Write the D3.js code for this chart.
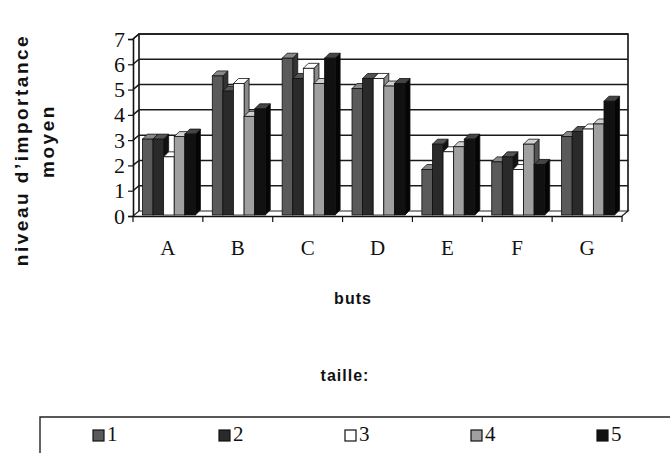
<!DOCTYPE html>
<html>
<head>
<meta charset="utf-8">
<script src="https://cdn.jsdelivr.net/npm/d3@7"></script>
<style>
  body { margin: 0; background: #fff; }
  svg { display: block; }
</style>
</head>
<body>
<script>
// data
const categories = ["A", "B", "C", "D", "E", "F", "G"];
const seriesNames = ["1", "2", "3", "4", "5"];
const s1 = [3.0, 5.5, 6.2, 5.0, 1.8, 2.1, 3.1];
const s2 = [3.0, 4.9, 5.4, 5.4, 2.8, 2.3, 3.3];
const s3 = [2.3, 5.2, 5.8, 5.4, 2.5, 1.8, 3.4];
const s4 = [3.1, 3.9, 5.2, 5.1, 2.7, 2.8, 3.6];
const s5 = [3.2, 4.2, 6.2, 5.2, 3.0, 2.0, 4.5];
const series = [s1, s2, s3, s4, s5];
const yTicks = [0, 1, 2, 3, 4, 5, 6, 7];

const front = ["#5a5a5a", "#2a2a2a", "#ffffff", "#a0a0a0", "#111111"];
const side  = ["#333333", "#111111", "#8a8a8a", "#555555", "#050505"];
const top_  = ["#888888", "#555555", "#ffffff", "#d0d0d0", "#444444"];

const width = 670, height = 453;
const wall = {dx: 6, dy: -5};   // depth of the chart box
const depth = {dx: 5, dy: -5};  // depth of one bar

const svg = d3.select("body").append("svg")
  .attr("width", width).attr("height", height);

const x0 = d3.scaleBand().domain(categories).range([133, 622]);
const x1 = d3.scaleBand().domain(seriesNames).range([0, 53]);
const y = d3.scaleLinear().domain([0, 7]).range([216, 39]);

const g = svg.append("g");

// back wall + floor
g.append("path")
  .attr("d", `M${133 + wall.dx},${y(0) + wall.dy}V${y(7) + wall.dy}H${622 + wall.dx}V${y(0) + wall.dy}`)
  .attr("fill", "none").attr("stroke", "#111").attr("stroke-width", 1.6);
g.append("path")
  .attr("d", `M133,${y(0)}L${133 + wall.dx},${y(0) + wall.dy}H${622 + wall.dx}L622,${y(0)}`)
  .attr("fill", "none").attr("stroke", "#222").attr("stroke-width", 1.2);
g.append("path")
  .attr("d", `M133,${y(7)}L${133 + wall.dx},${y(7) + wall.dy}`)
  .attr("fill", "none").attr("stroke", "#111").attr("stroke-width", 1.4);

// gridlines on side and back wall
g.selectAll(".grid").data(yTicks.filter(d => d > 0)).join("path")
  .attr("class", "grid")
  .attr("d", d => `M133,${y(d)}L${133 + wall.dx},${y(d) + wall.dy}H${622 + wall.dx}`)
  .attr("fill", "none").attr("stroke", "#1a1a1a").attr("stroke-width", 1.5);

// bars, drawn left to right so the next front face hides the previous side
const bx = 1, by = -1; // bars sit a bit behind the front edge
categories.forEach((c, ci) => {
  series.forEach((s, si) => {
    const v = s[ci];
    const xl = x0(c) + (x0.bandwidth() - 53) / 2 + x1(seriesNames[si]) + bx;
    const w = x1.bandwidth();
    const yt = y(v) + by, yb = y(0) + by;
    const bar = g.append("g");
    bar.append("path")
      .attr("d", `M${xl + w},${yt}L${xl + w + depth.dx},${yt + depth.dy}V${yb + depth.dy}L${xl + w},${yb}Z`)
      .attr("fill", side[si]).attr("stroke", "#111").attr("stroke-width", 0.8);
    bar.append("path")
      .attr("d", `M${xl},${yt}L${xl + depth.dx},${yt + depth.dy}H${xl + w + depth.dx}L${xl + w},${yt}Z`)
      .attr("fill", top_[si]).attr("stroke", "#111").attr("stroke-width", 0.8);
    bar.append("rect")
      .attr("x", xl).attr("y", yt).attr("width", w).attr("height", yb - yt)
      .attr("fill", front[si]).attr("stroke", "#111").attr("stroke-width", 0.8);
  });
});

// front axes
const yAxis = d3.axisLeft(y).tickValues(yTicks).tickFormat(d3.format("d"))
  .tickSize(5).tickPadding(3);
svg.append("g").attr("transform", "translate(133,0)").call(yAxis)
  .call(a => a.select(".domain").attr("stroke", "#111").attr("stroke-width", 1.6))
  .call(a => a.selectAll("line").attr("stroke", "#111").attr("stroke-width", 1.2))
  .call(a => a.selectAll("text").attr("font-family", "Liberation Serif, serif")
    .attr("font-size", 22).attr("fill", "#111"));

const xAxis = d3.axisBottom(x0).tickSize(0).tickPadding(24);
const xa = svg.append("g").attr("transform", `translate(0,${y(0)})`).call(xAxis);
xa.select(".domain").attr("stroke", "#111").attr("stroke-width", 1.6);
xa.selectAll("text").attr("font-family", "Liberation Serif, serif")
  .attr("font-size", 21).attr("fill", "#111");
xa.selectAll(".edge").data(d3.range(categories.length + 1)).join("line")
  .attr("x1", i => 133 + i * x0.step()).attr("x2", i => 133 + i * x0.step())
  .attr("y1", 0).attr("y2", 6).attr("stroke", "#111").attr("stroke-width", 1.2);

// titles
const bold = "Liberation Sans, Arial, sans-serif";
svg.append("text").attr("transform", "translate(28,150) rotate(-90)")
  .attr("text-anchor", "middle").attr("font-family", bold).attr("font-weight", "bold")
  .attr("font-size", 19).attr("letter-spacing", 2.5).attr("fill", "#111")
  .text("niveau d\u2019importance");
svg.append("text").attr("transform", "translate(54,141) rotate(-90)")
  .attr("text-anchor", "middle").attr("font-family", bold).attr("font-weight", "bold")
  .attr("font-size", 19).attr("letter-spacing", 2.5).attr("fill", "#111")
  .text("moyen");
svg.append("text").attr("x", 353).attr("y", 304).attr("text-anchor", "middle")
  .attr("font-family", bold).attr("font-weight", "bold").attr("font-size", 16)
  .attr("letter-spacing", 1).attr("fill", "#111").text("buts");
svg.append("text").attr("x", 345).attr("y", 381).attr("text-anchor", "middle")
  .attr("font-family", bold).attr("font-weight", "bold").attr("font-size", 16)
  .attr("letter-spacing", 1).attr("fill", "#111").text("taille:");

// legend
svg.append("path").attr("d", "M40,460V417H680")
  .attr("fill", "none").attr("stroke", "#222").attr("stroke-width", 1.4);
const lx = d3.scalePoint().domain(seriesNames).range([93, 597]);
const leg = svg.selectAll(".leg").data(seriesNames).join("g")
  .attr("transform", d => `translate(${lx(d)},430)`);
leg.append("rect").attr("width", 11).attr("height", 11)
  .attr("fill", (d, i) => front[i]).attr("stroke", "#111").attr("stroke-width", 1.2);
leg.append("text").attr("x", 14).attr("y", 11)
  .attr("font-family", "Liberation Serif, serif").attr("font-size", 21)
  .attr("fill", "#111").text(d => d);
</script>
</body>
</html>
